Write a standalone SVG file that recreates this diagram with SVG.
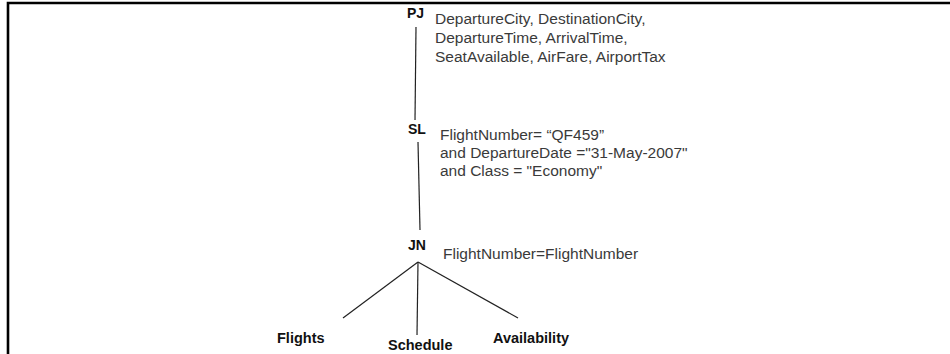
<svg xmlns="http://www.w3.org/2000/svg" width="950" height="354" viewBox="0 0 950 354">
<style>
.lbl{font-family:"Liberation Sans",Arial,sans-serif;font-weight:bold;font-size:14px;fill:#111}
.leaf{font-family:"Liberation Sans",Arial,sans-serif;font-weight:bold;font-size:14.5px;fill:#111}
.txt{font-family:"Liberation Sans",Arial,sans-serif;font-size:15.5px;fill:#3a3a3a}
.conn{stroke:#222;stroke-width:1.2;fill:none}
</style>
<rect width="950" height="354" fill="#fff"/>
<path d="M8 354 V3 H950" fill="none" stroke="#000" stroke-width="2.6"/>
<g id="connectors">
<line class="conn" x1="416" y1="27" x2="415" y2="120"/>
<line class="conn" x1="418" y1="142" x2="420" y2="230"/>
<line class="conn" x1="418" y1="262" x2="343" y2="318"/>
<line class="conn" x1="418" y1="262" x2="417" y2="335"/>
<line class="conn" x1="418" y1="262" x2="518" y2="318"/>
</g>
<g id="PJ">
<text class="lbl" x="407" y="18">PJ</text>
<text class="txt" x="435" y="24">DepartureCity, DestinationCity,</text>
<text class="txt" x="435" y="43">DepartureTime, ArrivalTime,</text>
<text class="txt" x="435" y="62">SeatAvailable, AirFare, AirportTax</text>
</g>
<g id="SL">
<text class="lbl" x="408" y="134">SL</text>
<text class="txt" x="440" y="140">FlightNumber= “QF459”</text>
<text class="txt" x="440" y="158">and DepartureDate ="31-May-2007"</text>
<text class="txt" x="440" y="176">and Class = "Economy"</text>
</g>
<g id="JN">
<text class="lbl" x="408" y="250">JN</text>
<text class="txt" x="443" y="259">FlightNumber=FlightNumber</text>
</g>
<g id="Flights"><text class="leaf" x="277" y="343">Flights</text></g>
<g id="Schedule"><text class="leaf" x="388" y="350">Schedule</text></g>
<g id="Availability"><text class="leaf" x="493" y="343">Availability</text></g>
</svg>
